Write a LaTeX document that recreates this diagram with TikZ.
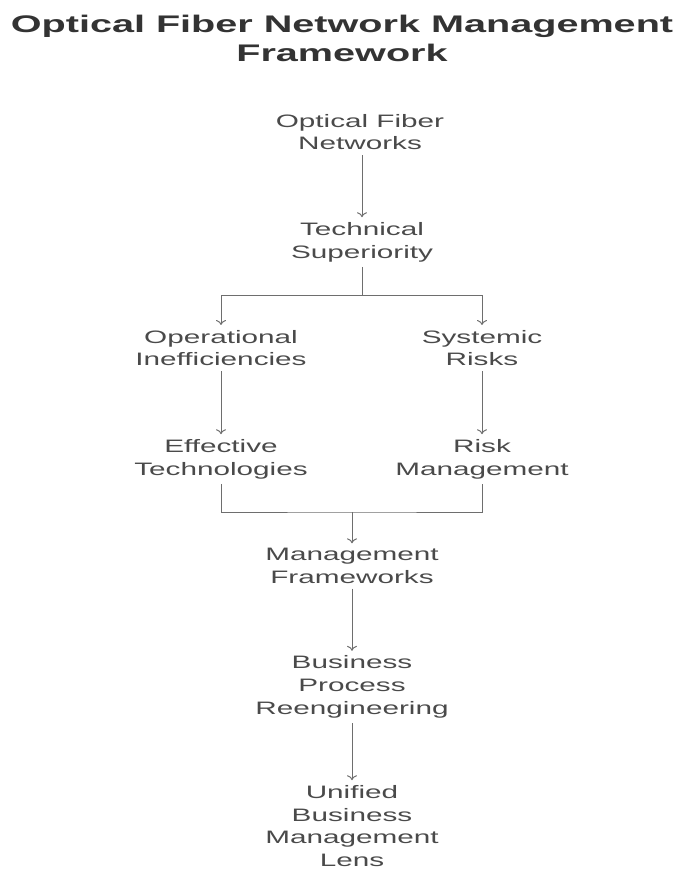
\documentclass[tikz,border=0pt]{standalone}
\usepackage{fontspec}
\setmainfont{Liberation Sans}[FakeStretch=1.65]
\usetikzlibrary{arrows.meta}
\definecolor{txt}{HTML}{4A4A4A}
\definecolor{ttlc}{HTML}{333333}
\definecolor{ln}{HTML}{6E6E6E}
\begin{document}
\begin{tikzpicture}[x=1pt,y=-1pt,
  lbl/.style={align=center, text=txt, font=\fontsize{18}{22.8}\selectfont, inner sep=0pt, outer sep=5pt},
  ttl/.style={align=center, text=ttlc, font=\bfseries\fontsize{24}{29}\selectfont, inner sep=0pt},
  conn/.style={draw=ln, line width=1pt},
  arr/.style={conn, -{To[length=5pt,width=10pt]}}]
\useasboundingbox (0,0) rectangle (684,870);
\node[ttl] (title) at (342,38) {Optical Fiber Network Management\\Framework};
\node[lbl] (ofn) at (360,132) {Optical Fiber\\Networks};
\node[lbl] (ts) at (362,242) {Technical\\Superiority};
\node[lbl] (oi) at (221,348) {Operational\\Inefficiencies};
\node[lbl] (sr) at (482,348) {Systemic\\Risks};
\node[lbl] (et) at (221,459) {Effective\\Technologies};
\node[lbl] (rm) at (482,459) {Risk\\Management};
\node[lbl] (mf) at (352,566) {Management\\Frameworks};
\node[lbl] (bpr) at (352,687) {Business\\Process\\Reengineering};
\node[lbl] (ubml) at (352,826) {Unified\\Business\\Management\\Lens};
\coordinate (split) at (362,295);
\coordinate (merge) at (352,512);
\draw[arr] (ofn.south -| ts.north) -- (ts.north);
\draw[conn] (ts.south) -- (split);
\draw[arr] (split) -| (oi.north);
\draw[arr] (split) -| (sr.north);
\draw[arr] (oi) -- (et);
\draw[arr] (sr) -- (rm);
\draw[conn] (et.south) |- (merge) -| (rm.south);
\draw[arr] (merge) -- (mf.north);
\draw[arr] (mf) -- (bpr);
\draw[arr] (bpr) -- (ubml);
\end{tikzpicture}
\end{document}
